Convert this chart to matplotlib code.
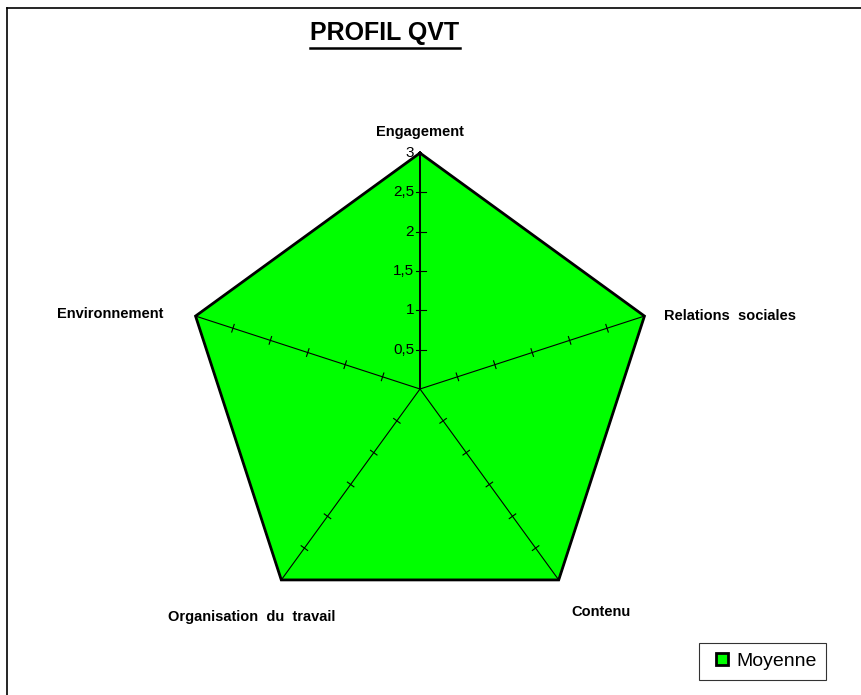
import numpy as np
import matplotlib.pyplot as plt
from matplotlib.lines import Line2D

plt.rcParams['font.family'] = ['Liberation Sans', 'DejaVu Sans']

# data
categories = ['Engagement', 'Relations  sociales', 'Contenu',
              'Organisation  du  travail', 'Environnement']
moyenne = [3, 3, 3, 3, 3]
ticks = [0.5, 1, 1.5, 2, 2.5, 3]
tick_labels = ['0,5', '1', '1,5', '2', '2,5', '3']
title = 'PROFIL QVT'
legend_label = 'Moyenne'

W, H = 861, 695
cx, cy = 420, 389          # centre in pixels
s = 236 / 3                # pixels per unit

fig = plt.figure(figsize=(W / 100, H / 100), dpi=100)
ax = fig.add_axes([0, 0, 1, 1])
ax.set_xlim(-cx / s, (W - cx) / s)
ax.set_ylim(-(H - cy) / s, cy / s)
ax.axis('off')

n = len(categories)
ang = np.pi / 2 - np.arange(n) * 2 * np.pi / n
vals = np.array(moyenne, dtype=float)
px = vals * np.cos(ang)
py = vals * np.sin(ang)

ax.fill(px, py, color='#00ff00', zorder=1)
ax.plot(np.append(px, px[0]), np.append(py, py[0]), color='black', lw=2.0,
        solid_joinstyle='miter', zorder=4, label=legend_label)

# axes with cross ticks
rmax = max(ticks)
hl = 4 / s
for i, a in enumerate(ang):
    ax.plot([0, rmax * np.cos(a)], [0, rmax * np.sin(a)], color='black',
            lw=1.4 if i == 0 else 0.8, zorder=3)
    nx, ny = -np.sin(a), np.cos(a)
    for t in ticks[:-1]:
        bx, by = t * np.cos(a), t * np.sin(a)
        if i == 0:
            ax.plot([bx - hl, bx + 1.5 * hl], [by, by], color='black', lw=0.8, zorder=3)
        else:
            ax.plot([bx - hl * nx, bx + hl * nx], [by - hl * ny, by + hl * ny],
                    color='black', lw=0.8, zorder=3)

# radial tick labels on first axis
for t, lab in zip(ticks, tick_labels):
    ax.text(-6 / s, t, lab, ha='right', va='center', fontsize=11, zorder=5)

# category labels
off = [(0, 21, 'center', 'center'),
       (20, 0, 'left', 'center'),
       (42, -32, 'center', 'center'),
       (-30, -37, 'center', 'center'),
       (-32, 2, 'right', 'center')]
for i, lab in enumerate(categories):
    dx, dy, ha, va = off[i]
    ax.text(px[i] + dx / s, py[i] + dy / s, lab, ha=ha, va=va,
            fontsize=10.5, fontweight='bold')

# title with underline
tt = fig.text(385 / W, 1 - 33 / H, title, ha='center', va='center',
              fontsize=18, fontweight='bold')
fig.canvas.draw()
bb = tt.get_window_extent()
fig.add_artist(Line2D([bb.x0 / W, bb.x1 / W], [1 - 48 / H, 1 - 48 / H],
                      color='black', lw=1.8, transform=fig.transFigure))

# frame lines on the left and top
fig.add_artist(Line2D([7 / W, 7 / W], [0, 1 - 8 / H], color='black', lw=1.2,
                      transform=fig.transFigure))
fig.add_artist(Line2D([7 / W, 1], [1 - 8 / H, 1 - 8 / H], color='black', lw=1.2,
                      transform=fig.transFigure))

handle = Line2D([], [], marker='s', linestyle='none', markersize=8,
                markerfacecolor='#00ff00', markeredgecolor='black',
                markeredgewidth=2)
leg = fig.legend([handle], [legend_label], loc='lower right',
                 bbox_to_anchor=(826 / W, 1 - 680 / H), fontsize=14,
                 frameon=True, fancybox=False, handlelength=1.4,
                 handletextpad=0.0, borderpad=0.5, borderaxespad=0)
leg.get_frame().set_edgecolor('black')
leg.get_frame().set_linewidth(0.8)

fig.savefig('out.png', dpi=100)
